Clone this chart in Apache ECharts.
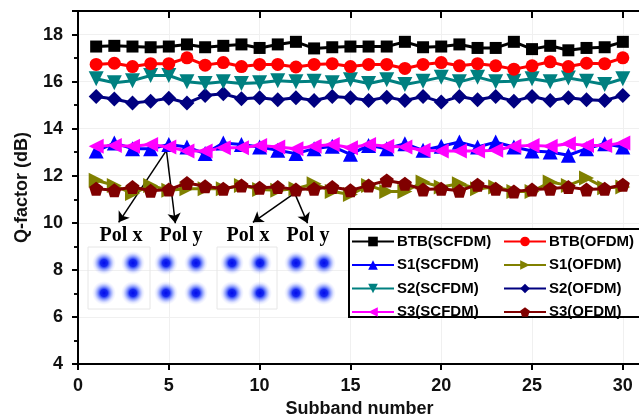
<!DOCTYPE html>
<html><head><meta charset="utf-8">
<script src="https://cdn.jsdelivr.net/npm/echarts@6/dist/echarts.min.js"></script>
<style>html,body{margin:0;padding:0;background:#fff}#c{width:639px;height:420px}</style>
</head><body><div id="c"></div>
<script>
const subbands = [1,2,3,4,5,6,7,8,9,10,11,12,13,14,15,16,17,18,19,20,21,22,23,24,25,26,27,28,29,30];
const xTicks = [0,5,10,15,20,25,30];
const yTicks = [4,6,8,10,12,14,16,18];
const btbSC = [17.49,17.52,17.49,17.46,17.49,17.58,17.46,17.52,17.58,17.43,17.58,17.69,17.41,17.46,17.49,17.49,17.49,17.69,17.46,17.49,17.58,17.43,17.43,17.69,17.38,17.52,17.33,17.43,17.46,17.69];
const btbOF = [16.73,16.78,16.64,16.76,16.76,17.01,16.70,16.81,16.64,16.73,16.73,16.62,16.73,16.76,16.64,16.73,16.73,16.56,16.73,16.81,16.67,16.76,16.67,16.53,16.67,16.84,16.64,16.78,16.76,17.01];
const s1SC = [13.05,13.39,13.15,13.15,13.33,13.22,12.94,13.39,13.33,13.22,13.08,12.94,13.15,13.25,12.91,13.29,13.15,13.36,13.08,13.25,13.43,13.22,13.43,13.22,13.05,13.01,12.87,13.15,13.36,13.22];
const s1OF = [11.81,11.59,11.24,11.59,11.38,11.45,11.45,11.45,11.59,11.41,11.38,11.45,11.66,11.33,11.20,11.59,11.33,11.33,11.73,11.52,11.66,11.45,11.52,11.33,11.33,11.73,11.59,11.90,11.49,11.52];
const s2SC = [16.12,15.95,16.04,16.26,16.26,15.99,15.92,15.99,15.92,15.95,16.04,15.99,16.02,15.95,16.08,15.92,16.08,15.88,16.02,16.19,15.99,16.19,15.99,16.02,16.12,15.99,16.15,16.02,15.88,16.12];
const s2OF = [15.37,15.26,15.09,15.17,15.29,15.09,15.41,15.48,15.27,15.31,15.23,15.31,15.20,15.37,15.31,15.20,15.34,15.20,15.37,15.13,15.37,15.23,15.37,15.17,15.37,15.20,15.31,15.23,15.20,15.41];
const s3SC = [13.25,13.29,13.25,13.33,13.22,13.05,13.05,13.19,13.19,13.29,13.22,13.15,13.25,13.33,13.19,13.33,13.25,13.22,13.08,13.05,13.05,13.05,13.08,13.25,13.29,13.25,13.36,13.29,13.29,13.39];
const s3OF = [11.45,11.38,11.52,11.36,11.41,11.69,11.55,11.45,11.59,11.49,11.52,11.41,11.45,11.52,11.38,11.59,11.80,11.66,11.41,11.45,11.36,11.62,11.45,11.33,11.41,11.45,11.52,11.41,11.45,11.62];
const seriesNames = ['BTB(SCFDM)','BTB(OFDM)','S1(SCFDM)','S1(OFDM)','S2(SCFDM)','S2(OFDM)','S3(SCFDM)','S3(OFDM)'];
const polLabels = ['Pol x','Pol y','Pol x','Pol y'];

const pent = 'path://M0,-1 L0.951,-0.309 L0.588,0.809 L-0.588,0.809 L-0.951,-0.309 Z';
const defs = [
  {d: btbSC, c: '#000000', s: 'rect', r: 0, z: 10, sz: 12},
  {d: btbOF, c: '#ff0000', s: 'circle', r: 0, z: 9, sz: 13},
  {d: s1SC, c: '#0000ff', s: 'triangle', r: 0, z: 6, sz: 15},
  {d: s1OF, c: '#808000', s: 'triangle', r: -90, z: 5, sz: 15},
  {d: s2SC, c: '#008080', s: 'triangle', r: 180, z: 8, sz: 15},
  {d: s2OF, c: '#000080', s: 'diamond', r: 0, z: 7, sz: 15},
  {d: s3SC, c: '#ff00ff', s: 'triangle', r: 90, z: 6, sz: 15},
  {d: s3OF, c: '#800000', s: pent, r: 0, z: 6, sz: 14}
];
const series = defs.map((o, i) => ({
  name: seriesNames[i], type: 'line',
  data: subbands.map((x, k) => [x, o.d[k]]),
  symbol: o.s, symbolRotate: o.r, symbolSize: o.sz,
  lineStyle: {color: o.c, width: 3},
  itemStyle: {color: o.c},
  z: o.z, animation: false
}));
series.push({
  type: 'line', data: [], silent: true, animation: false,
  markLine: {
    silent: true, animation: false,
    symbol: ['none', 'arrow'], symbolSize: 10,
    label: {show: false},
    lineStyle: {color: '#000', width: 1.5, type: 'solid'},
    data: [
      [{coord: [4.87, 13.08]}, {coord: [2.24, 10.02]}],
      [{coord: [4.87, 13.08]}, {coord: [5.36, 9.98]}],
      [{coord: [11.93, 11.26]}, {coord: [9.63, 10.02]}],
      [{coord: [11.93, 11.26]}, {coord: [12.64, 9.98]}]
    ]
  }
});

const axisFont = {fontFamily: 'Liberation Sans', fontWeight: 'bold', fontSize: 18, color: '#111'};
const lineBlack = {show: true, lineStyle: {color: '#000', width: 2}};

const graphics = [];
graphics.push({type: 'rect', shape: {x: 349, y: 229, width: 300, height: 88},
  style: {fill: '#fff', stroke: '#000', lineWidth: 2}, z: 3});
const panels = [{x: 88, y: 247, w: 62, h: 62, b: true}, {x: 152, y: 247, w: 60, h: 62, b: false},
                {x: 217, y: 247, w: 60, h: 62, b: true}, {x: 280, y: 247, w: 58, h: 62, b: false}];
const cx = [[104,133],[166,196],[232,260],[296,324]];
const cy = [263, 293];
panels.forEach((p, i) => {
  if (p.b) graphics.push({type: 'rect', shape: {x: p.x, y: p.y, width: p.w, height: p.h},
    style: {fill: 'none', stroke: '#e6e6e6', lineWidth: 1}, z: 1});
  cx[i].forEach(x => cy.forEach(y => {
    graphics.push({type: 'circle', shape: {cx: x, cy: y, r: 12}, z: 2,
      style: {fill: new echarts.graphic.RadialGradient(0.5, 0.5, 0.5, [
        {offset: 0, color: 'rgba(0,10,235,1)'},
        {offset: 0.3, color: 'rgba(10,30,240,0.95)'},
        {offset: 0.55, color: 'rgba(50,80,250,0.55)'},
        {offset: 0.8, color: 'rgba(110,130,255,0.18)'},
        {offset: 1, color: 'rgba(150,160,255,0)'}])}});
  }));
});
const labX = [121, 181, 248, 308];
labX.forEach((x, i) => graphics.push({type: 'text', x: x, y: 236, z: 5,
  style: {text: polLabels[i], font: 'bold 20px "Liberation Serif"', fill: '#000',
    textAlign: 'center', textVerticalAlign: 'middle', verticalAlign: 'middle'}}));

const legendCommon = {orient: 'vertical', itemWidth: 42, itemHeight: 12, itemGap: 8.5, z: 6,
  textStyle: {fontFamily: 'Liberation Sans', fontWeight: 'bold', fontSize: 15, color: '#000', padding: [0,0,0,-2]},
  padding: 0};

const chart = echarts.init(document.getElementById('c'), null, {renderer: 'canvas'});
chart.setOption({
  backgroundColor: '#fff',
  animation: false,
  grid: {left: 78, top: 11, width: 563, height: 353, containLabel: false, outerBoundsMode: 'none'},
  legend: [
    Object.assign({}, legendCommon, {left: 351, top: 234, data: [seriesNames[0], seriesNames[2], seriesNames[4], seriesNames[6]]}),
    Object.assign({}, legendCommon, {left: 503, top: 234, data: [seriesNames[1], seriesNames[3], seriesNames[5], seriesNames[7]]})
  ],
  xAxis: [
    {type: 'value', min: 0, max: 31, interval: 5, position: 'bottom',
      name: 'Subband number', nameLocation: 'middle', nameGap: 36,
      nameTextStyle: axisFont,
      axisLine: lineBlack, axisTick: {show: true, length: 6, lineStyle: {color: '#000', width: 2}},
      axisLabel: Object.assign({margin: 13, formatter: v => xTicks.includes(v) ? String(v) : ''}, axisFont),
      splitLine: {show: true, lineStyle: {color: '#f0f0f0', width: 1}}},
    {type: 'value', min: 0, max: 31, interval: 5, position: 'top',
      axisLine: lineBlack, axisTick: {show: true, inside: true, length: 7, lineStyle: {color: '#000', width: 2}},
      axisLabel: {show: false}, splitLine: {show: false}}
  ],
  yAxis: [
    {type: 'value', min: 4, max: 19, interval: 2, position: 'left',
      name: 'Q-factor (dB)', nameLocation: 'middle', nameGap: 47,
      nameTextStyle: axisFont,
      axisLine: lineBlack, axisTick: {show: true, length: 6, lineStyle: {color: '#000', width: 2}},
      minorTick: {show: true, splitNumber: 2, length: 4, lineStyle: {color: '#000', width: 1.5}},
      axisLabel: Object.assign({margin: 15, formatter: v => yTicks.includes(v) ? String(v) : ''}, axisFont),
      splitLine: {show: true, lineStyle: {color: '#f0f0f0', width: 1}}},
    {type: 'value', min: 4, max: 19, interval: 2, position: 'right',
      axisLine: lineBlack, axisTick: {show: true, inside: true, length: 6, lineStyle: {color: '#000', width: 2}},
      minorTick: {show: true, splitNumber: 2, length: 4, lineStyle: {color: '#000', width: 1.5}},
      axisLabel: {show: false}, splitLine: {show: false}}
  ],
  graphic: graphics,
  series: series
});
</script></body></html>
